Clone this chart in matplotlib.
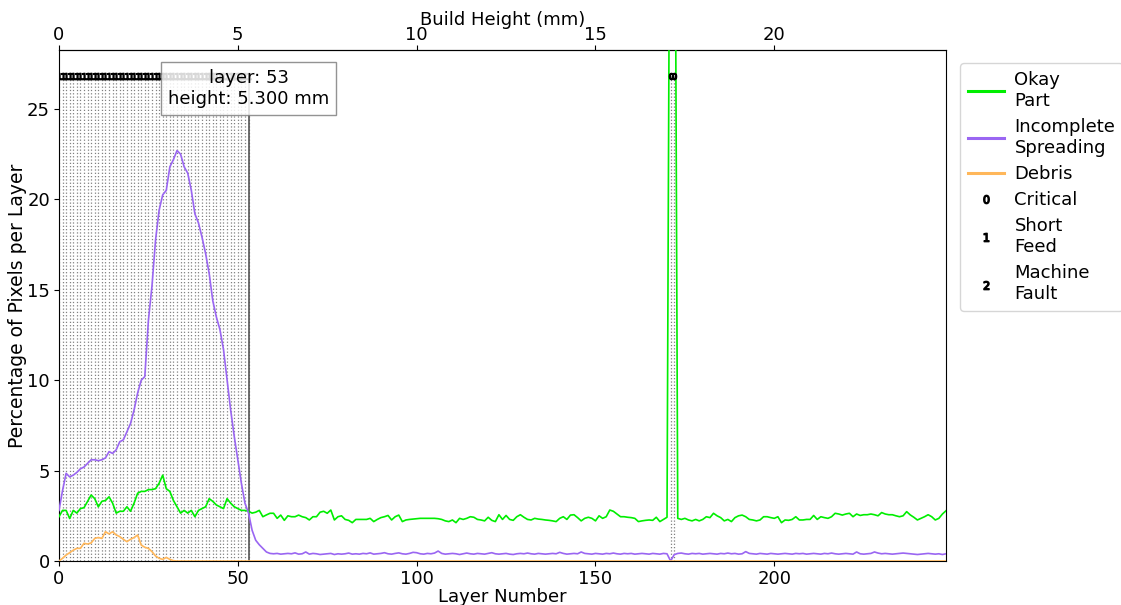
import numpy as np
import matplotlib
matplotlib.use("Agg")
import matplotlib.pyplot as plt
from matplotlib.lines import Line2D

# per-layer percentages (layers 0..248)
okay_part = [
    2.45, 2.8, 2.8, 2.35, 2.8, 2.65, 2.9, 2.95, 3.3, 3.65,
    3.45, 3.0, 3.3, 3.35, 3.55, 3.2, 2.65, 2.75, 2.75, 3.0,
    2.75, 3.2, 3.75, 3.85, 3.85, 3.95, 3.95, 4.0, 4.3, 4.75,
    4.0, 3.85, 3.35, 3.0, 2.65, 2.8, 2.65, 2.8, 2.45, 2.8,
    2.9, 3.0, 3.45, 3.3, 3.1, 3.0, 2.9, 3.45, 3.2, 3.0,
    2.9, 2.8, 2.8, 2.75, 2.65, 2.7, 2.8, 2.45,
    2.55, 2.64, 2.64, 2.36, 2.54, 2.25, 2.5, 2.45, 2.45, 2.54,
    2.45, 2.4, 2.27, 2.45, 2.45, 2.7, 2.75, 2.64, 2.82, 2.27,
    2.45, 2.5, 2.3, 2.25, 2.12, 2.3, 2.3, 2.3, 2.3, 2.36,
    2.18, 2.3, 2.4, 2.45, 2.52, 2.27, 2.45, 2.54, 2.18, 2.27,
    2.3, 2.32, 2.34, 2.36, 2.36, 2.36, 2.36, 2.36, 2.34, 2.3,
    2.22, 2.18, 2.27, 2.12, 2.36, 2.3, 2.36, 2.45, 2.42, 2.3,
    2.27, 2.22, 2.42, 2.25, 2.18, 2.56, 2.3, 2.52, 2.3, 2.25,
    2.45, 2.56, 2.42, 2.3, 2.27, 2.36, 2.32, 2.3, 2.27, 2.25,
    2.22, 2.18, 2.36, 2.45, 2.3, 2.54, 2.56, 2.4, 2.22, 2.36,
    2.42, 2.36, 2.22, 2.5, 2.36, 2.45, 2.82, 2.75, 2.6, 2.45,
    2.45, 2.42, 2.4, 2.36, 2.18, 2.22, 2.25, 2.27, 2.25, 2.42,
    2.18, 2.3, 2.42, 50.0, 50.0,
    2.36, 2.3, 2.36, 2.27, 2.22, 2.3, 2.22, 2.3, 2.45, 2.4,
    2.64, 2.5, 2.4, 2.22, 2.3, 2.18, 2.4, 2.5, 2.54, 2.45,
    2.3, 2.27, 2.22, 2.27, 2.45, 2.45, 2.4, 2.36, 2.45, 2.12,
    2.27, 2.25, 2.3, 2.45, 2.27, 2.27, 2.3, 2.3, 2.52, 2.3,
    2.45, 2.4, 2.36, 2.45, 2.64, 2.6, 2.54, 2.6, 2.64, 2.45,
    2.6, 2.52, 2.56, 2.56, 2.6, 2.56, 2.5, 2.68, 2.6, 2.56,
    2.56, 2.5, 2.45, 2.5, 2.73, 2.55, 2.42, 2.27, 2.36, 2.45,
    2.56, 2.45, 2.27, 2.36, 2.6, 2.78,
]

incomplete_spreading = [
    2.8, 3.9, 4.85, 4.65, 4.75, 4.9, 5.1, 5.2, 5.4, 5.6,
    5.6, 5.55, 5.6, 5.7, 6.05, 5.95, 6.15, 6.6, 6.7, 7.15,
    7.6, 8.35, 9.3, 10.0, 10.2, 13.3, 15.2, 17.75, 19.4, 20.25,
    20.5, 21.8, 22.2, 22.7, 22.5, 21.8, 21.45, 20.5, 19.2, 18.7,
    17.9, 17.0, 15.9, 14.4, 13.5, 12.8, 11.7, 10.0, 8.35, 6.9,
    5.6, 4.3, 3.2, 2.65, 1.7, 1.15, 0.9, 0.7,
    0.5, 0.42, 0.4, 0.42, 0.38, 0.4, 0.42, 0.4, 0.45, 0.38,
    0.4, 0.5, 0.38, 0.42, 0.4, 0.36, 0.38, 0.4, 0.42, 0.36,
    0.4, 0.38, 0.4, 0.44, 0.38, 0.4, 0.38, 0.42, 0.4, 0.45,
    0.38, 0.4, 0.42, 0.46, 0.4, 0.38, 0.42, 0.45, 0.4, 0.38,
    0.42, 0.48, 0.46, 0.4, 0.38, 0.42, 0.4, 0.44, 0.55, 0.42,
    0.38, 0.4, 0.42, 0.4, 0.36, 0.4, 0.44, 0.4, 0.38, 0.42,
    0.4, 0.38, 0.42, 0.46, 0.4, 0.38, 0.4, 0.42, 0.38, 0.36,
    0.4, 0.42, 0.4, 0.44, 0.4, 0.38, 0.42, 0.4, 0.38, 0.4,
    0.42, 0.4, 0.48, 0.42, 0.38, 0.4, 0.42, 0.4, 0.5, 0.42,
    0.4, 0.38, 0.42, 0.4, 0.38, 0.42, 0.4, 0.44, 0.4, 0.38,
    0.42, 0.4, 0.42, 0.38, 0.4, 0.42, 0.4, 0.38, 0.42, 0.4,
    0.38, 0.42, 0.4, 0.0, 0.35,
    0.42, 0.44, 0.4, 0.38, 0.42, 0.4, 0.42, 0.38, 0.4, 0.42,
    0.4, 0.38, 0.42, 0.4, 0.44, 0.4, 0.42, 0.38, 0.4, 0.52,
    0.42, 0.4, 0.38, 0.42, 0.4, 0.38, 0.42, 0.4, 0.38, 0.4,
    0.42, 0.4, 0.38, 0.42, 0.4, 0.42, 0.38, 0.4, 0.42, 0.4,
    0.38, 0.42, 0.4, 0.44, 0.4, 0.38, 0.4, 0.42, 0.4, 0.38,
    0.5, 0.4, 0.38, 0.4, 0.42, 0.5, 0.44, 0.4, 0.42, 0.4,
    0.38, 0.4, 0.42, 0.44, 0.42, 0.4, 0.38, 0.36, 0.38, 0.4,
    0.42, 0.4, 0.38, 0.4, 0.36, 0.4,
]

debris = [
    0.0, 0.15, 0.33, 0.46, 0.6, 0.7, 0.7, 0.98, 0.94, 1.0,
    1.25, 1.3, 1.25, 1.62, 1.5, 1.62, 1.44, 1.35, 1.2, 1.07,
    1.2, 1.3, 1.44, 0.88, 0.76, 0.7, 0.52, 0.28, 0.15, 0.09,
    0.2, 0.09, 0.02,
] + [0.0] * 216

# flagged layers (anomaly markers drawn at the top of the plot)
critical_layers = [171, 172]
short_feed_layers = list(range(0, 54))
machine_fault_layers = []
MARKER_Y = 26.8
CURSOR_LAYER = 53
LAYER_HEIGHT_MM = 0.1

GREEN = "#00ee00"
PURPLE = "#9a66f2"
ORANGE = "#ffb75a"

layers = np.arange(len(okay_part))

plt.rcParams["font.size"] = 13
fig = plt.figure(figsize=(11.21, 6.05), dpi=100)
ax = fig.add_axes([0.0526, 0.0727, 0.7913, 0.8443])

# dotted guide lines for every flagged layer
flagged = short_feed_layers + critical_layers + machine_fault_layers
ax.vlines(flagged, 0, MARKER_Y, colors="gray", linestyles=":", lw=0.9, zorder=1)

ax.plot(layers, okay_part, color=GREEN, lw=1.2, zorder=3)
ax.plot(layers, incomplete_spreading, color=PURPLE, lw=1.2, zorder=3)
ax.plot(layers, debris, color=ORANGE, lw=1.2, zorder=3)

ax.plot(critical_layers, [MARKER_Y] * len(critical_layers), ls="none",
        marker="$0$", color="black", ms=4.5, zorder=4)
ax.plot(short_feed_layers, [MARKER_Y] * len(short_feed_layers), ls="none",
        marker="$1$", color="black", ms=4.5, zorder=4)

# cursor line + readout box
ax.vlines(CURSOR_LAYER, 0, MARKER_Y, colors="#555555", lw=1.2, zorder=2)
ax.text(CURSOR_LAYER, 26.15,
        f"layer: {CURSOR_LAYER}\nheight: {CURSOR_LAYER * LAYER_HEIGHT_MM:.3f} mm",
        ha="center", va="center", fontsize=13, linespacing=1.2, zorder=5,
        bbox=dict(boxstyle="square,pad=0.4", fc="white", ec="gray", alpha=0.85))

ax.set_xlim(0, len(okay_part) - 1)
ax.set_ylim(0, 28.25)
ax.tick_params(labelsize=13, pad=3)
ax.set_xlabel("Layer Number", labelpad=0)
ax.set_ylabel("Percentage of Pixels per Layer", labelpad=0, fontsize=13.5)

secax = ax.secondary_xaxis("top", functions=(lambda x: x * LAYER_HEIGHT_MM,
                                             lambda x: x / LAYER_HEIGHT_MM))
secax.tick_params(labelsize=13, pad=1)
secax.set_xlabel("Build Height (mm)", labelpad=1)

handles = [
    Line2D([], [], color=GREEN, lw=2.2),
    Line2D([], [], color=PURPLE, lw=2.2),
    Line2D([], [], color=ORANGE, lw=2.2),
    Line2D([], [], ls="none", marker="$0$", color="black", ms=6),
    Line2D([], [], ls="none", marker="$1$", color="black", ms=6),
    Line2D([], [], ls="none", marker="$2$", color="black", ms=6),
]
labels = ["Okay\nPart", "Incomplete\nSpreading", "Debris",
          "Critical", "Short\nFeed", "Machine\nFault"]
leg = ax.legend(handles, labels, loc="upper left", bbox_to_anchor=(1.01, 0.985),
                handlelength=2.0, handletextpad=0.6, fontsize=13,
                labelspacing=0.45, borderaxespad=0.3)
for t in leg.get_texts():
    t.set_linespacing(1.22)

fig.savefig("out.png", dpi=100)
